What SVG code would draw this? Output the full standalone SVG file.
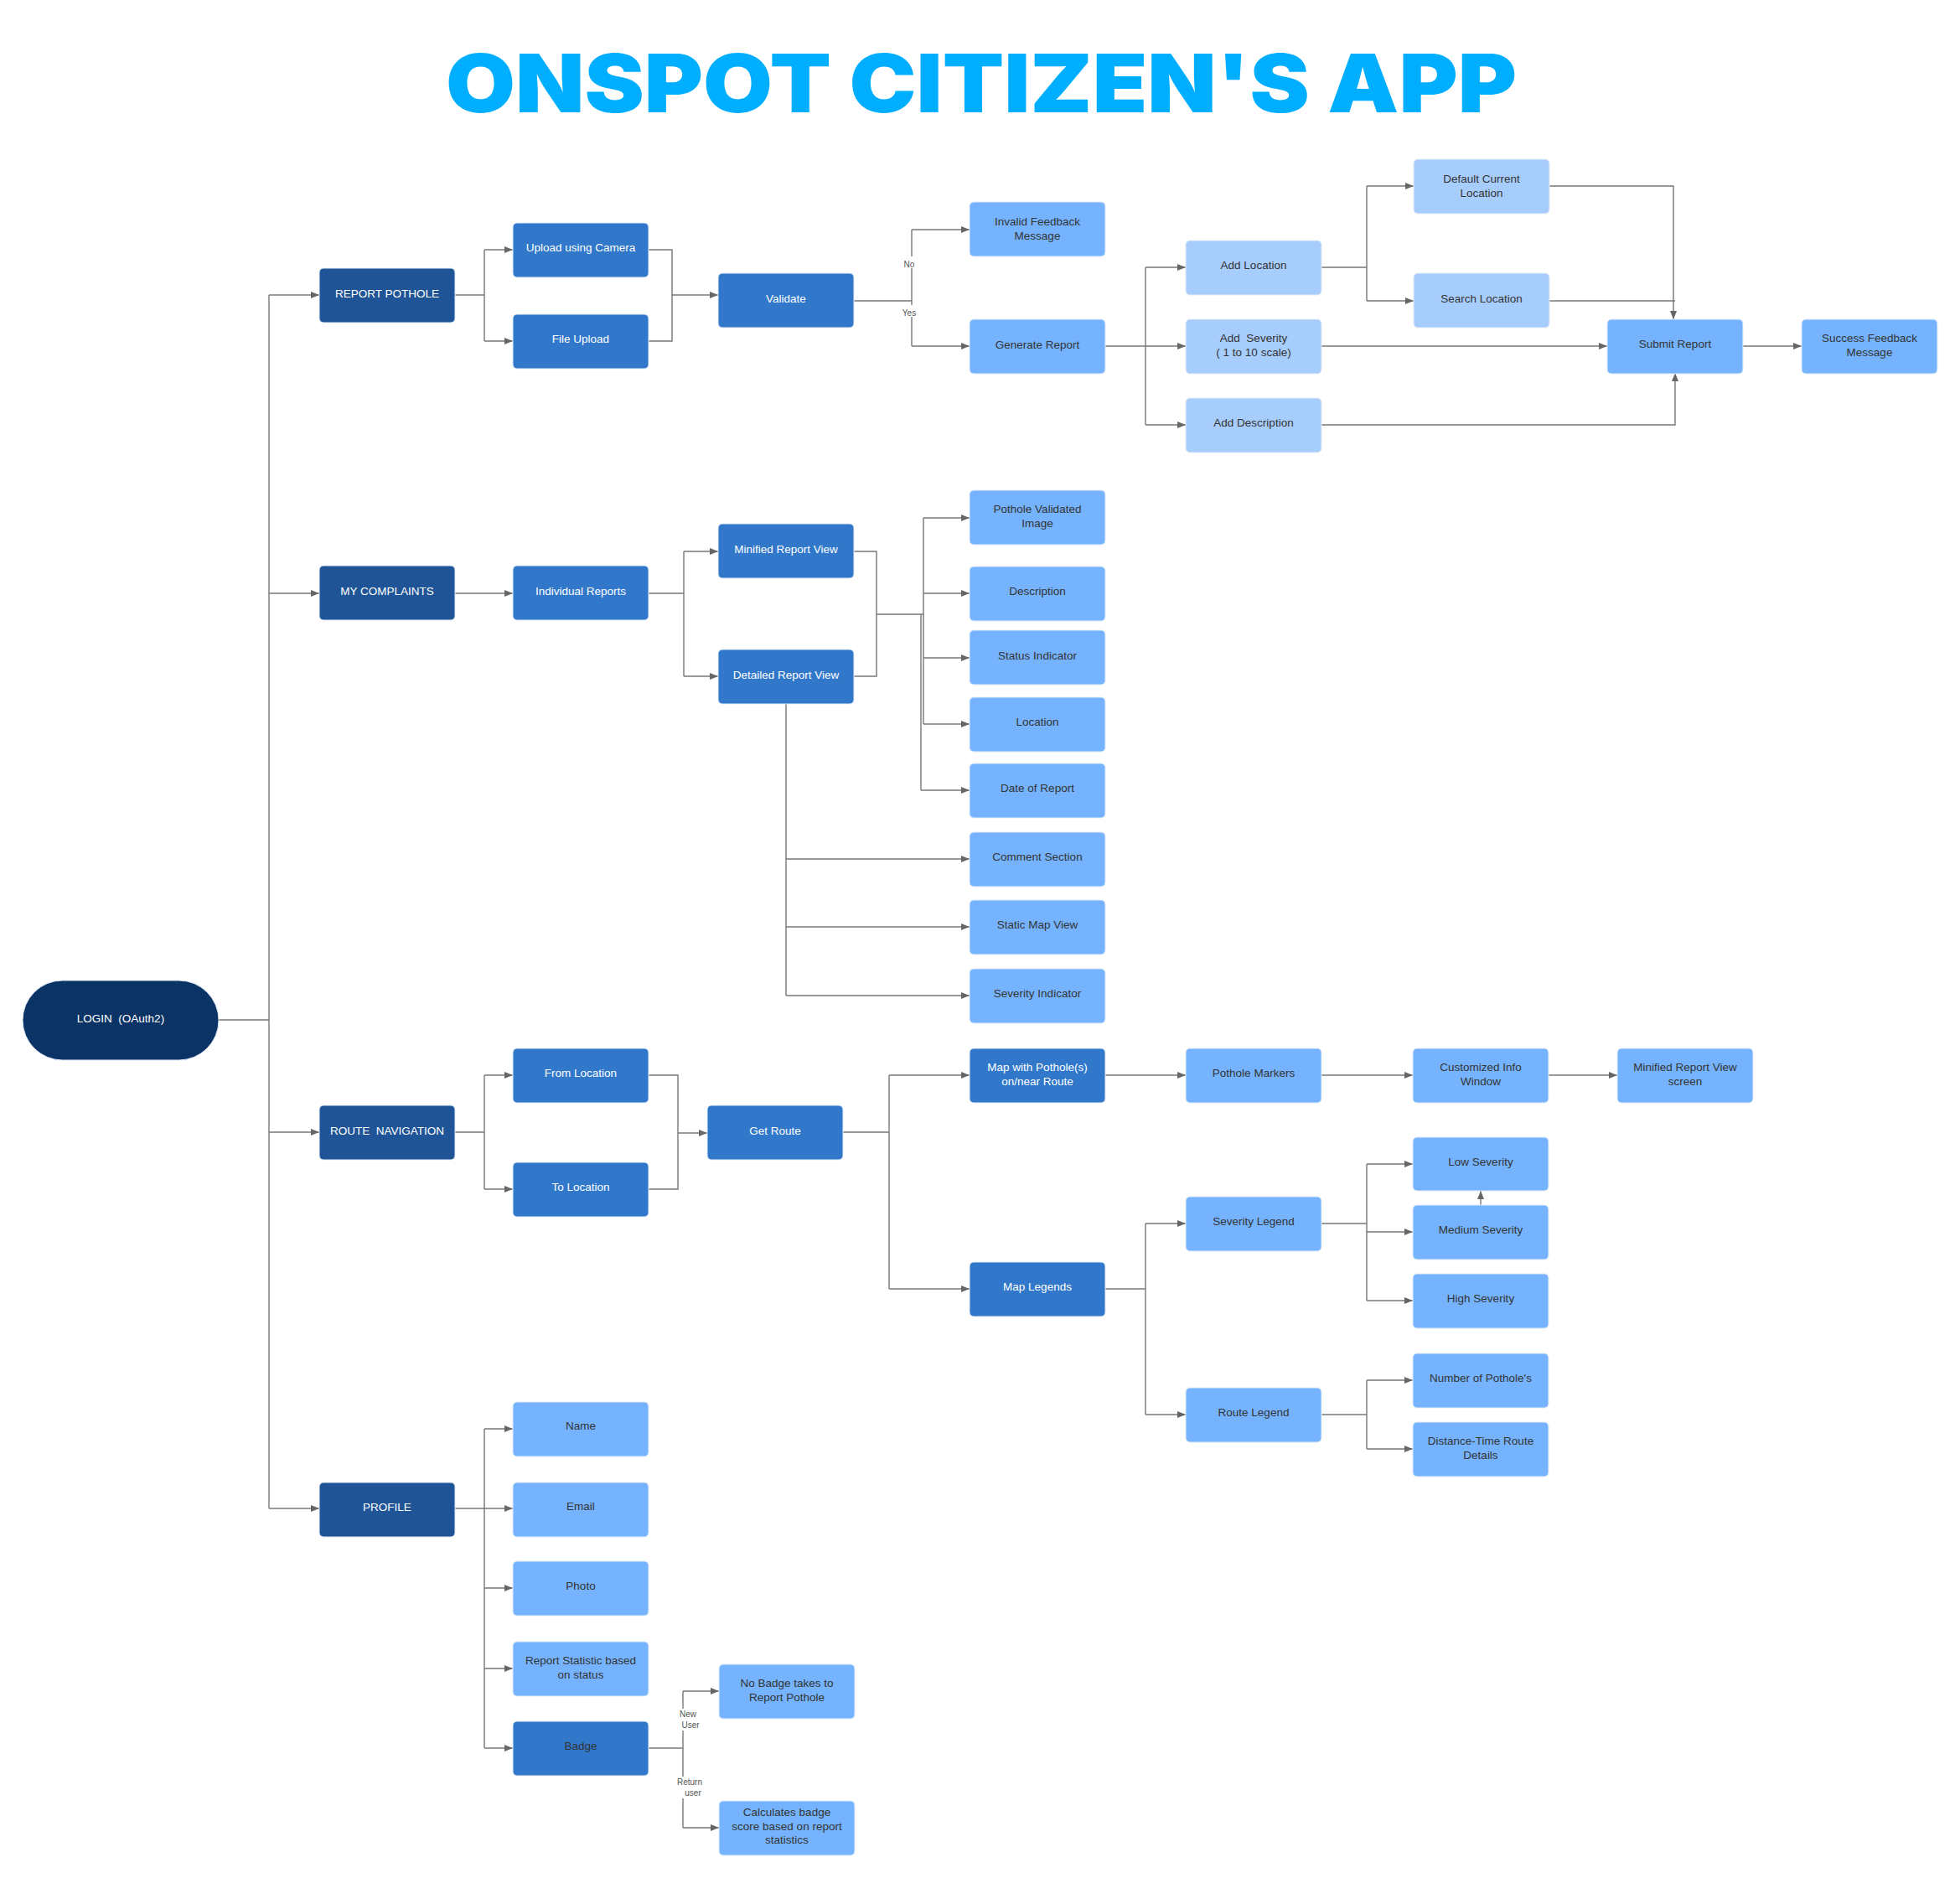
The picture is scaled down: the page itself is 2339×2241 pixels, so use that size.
<svg xmlns="http://www.w3.org/2000/svg" width="2339" height="2241" viewBox="0 0 2339 2241">
<style>
  .bg{fill:#ffffff}
  .title{font-family:"Inter","Roboto","Lato",sans-serif;font-weight:900;font-size:96px;fill:#00AEFF}
  .n rect{stroke:#e3ecf7;stroke-width:1}
  .l0 rect{fill:#0B3366}
  .l1 rect{fill:#1F5597}
  .l2 rect{fill:#3178CB}
  .l3 rect{fill:#75B3FE}
  .l4 rect{fill:#A7CDFD}
  .n text{font-family:"Liberation Sans",Arial,sans-serif;font-size:13.5px;text-anchor:middle;white-space:pre}
  .l0 text,.l1 text,.l2 text{fill:#ffffff}
  .l3 text,.l4 text,.dk text{fill:#333333}
  .c path{fill:none;stroke:#777777;stroke-width:1.4}
  .lbl{font-family:"Liberation Sans",Arial,sans-serif;font-size:10px;fill:#555555;text-anchor:middle}
</style>
<defs>
  <marker id="ah" markerUnits="userSpaceOnUse" markerWidth="11" markerHeight="9" refX="10" refY="4" orient="auto">
    <path d="M0,0 L10,4 L0,8 z" fill="#666666"/>
  </marker>
</defs>
<rect class="bg" x="0" y="0" width="2339" height="2241"/>
<text class="title" x="532" y="134" textLength="1278" lengthAdjust="spacingAndGlyphs">ONSPOT CITIZEN'S APP</text>

<g id="connectors" class="c">
  <path d="M261,1217 H321"/>
  <path d="M321,352 V1800"/>
  <path d="M321,352 H381" marker-end="url(#ah)"/>
  <path d="M321,708 H381" marker-end="url(#ah)"/>
  <path d="M321,1351 H381" marker-end="url(#ah)"/>
  <path d="M321,1800 H381" marker-end="url(#ah)"/>
  <path d="M543,352 H578"/>
  <path d="M578,298 V407"/>
  <path d="M578,298 H612" marker-end="url(#ah)"/>
  <path d="M578,407 H612" marker-end="url(#ah)"/>
  <path d="M774,298 H802 V407 H774"/>
  <path d="M802,352 H857" marker-end="url(#ah)"/>
  <path d="M1019,359 H1088"/>
  <path d="M1088,274 V413"/>
  <path d="M1088,274 H1157" marker-end="url(#ah)"/>
  <path d="M1088,413 H1157" marker-end="url(#ah)"/>
  <path d="M1319,413 H1367"/>
  <path d="M1367,319 V507"/>
  <path d="M1367,319 H1415" marker-end="url(#ah)"/>
  <path d="M1367,413 H1415" marker-end="url(#ah)"/>
  <path d="M1367,507 H1415" marker-end="url(#ah)"/>
  <path d="M1576,319 H1631"/>
  <path d="M1631,222 V359"/>
  <path d="M1631,222 H1687" marker-end="url(#ah)"/>
  <path d="M1631,359 H1687" marker-end="url(#ah)"/>
  <path d="M1849,222 H1997 V381" marker-end="url(#ah)"/>
  <path d="M1849,359 H1999"/>
  <path d="M1576,413 H1918" marker-end="url(#ah)"/>
  <path d="M1576,507 H1999 V445" marker-end="url(#ah)"/>
  <path d="M2080,413 H2150" marker-end="url(#ah)"/>
  <path d="M543,708 H612" marker-end="url(#ah)"/>
  <path d="M774,708 H816"/>
  <path d="M816,658 V807"/>
  <path d="M816,658 H857" marker-end="url(#ah)"/>
  <path d="M816,807 H857" marker-end="url(#ah)"/>
  <path d="M1019,658 H1046 V807 H1019"/>
  <path d="M1046,733 H1102"/>
  <path d="M1102,618 V864"/>
  <path d="M1099,733 V943"/>
  <path d="M1102,618 H1157" marker-end="url(#ah)"/>
  <path d="M1102,708 H1157" marker-end="url(#ah)"/>
  <path d="M1102,785 H1157" marker-end="url(#ah)"/>
  <path d="M1102,864 H1157" marker-end="url(#ah)"/>
  <path d="M1099,943 H1157" marker-end="url(#ah)"/>
  <path d="M938,840 V1188"/>
  <path d="M938,1025 H1157" marker-end="url(#ah)"/>
  <path d="M938,1106 H1157" marker-end="url(#ah)"/>
  <path d="M938,1188 H1157" marker-end="url(#ah)"/>
  <path d="M543,1351 H578"/>
  <path d="M578,1283 V1419"/>
  <path d="M578,1283 H612" marker-end="url(#ah)"/>
  <path d="M578,1419 H612" marker-end="url(#ah)"/>
  <path d="M774,1283 H809 V1419 H774"/>
  <path d="M809,1352 H844" marker-end="url(#ah)"/>
  <path d="M1006,1351 H1061"/>
  <path d="M1061,1283 V1538"/>
  <path d="M1061,1283 H1157" marker-end="url(#ah)"/>
  <path d="M1061,1538 H1157" marker-end="url(#ah)"/>
  <path d="M1319,1283 H1415" marker-end="url(#ah)"/>
  <path d="M1577,1283 H1686" marker-end="url(#ah)"/>
  <path d="M1848,1283 H1930" marker-end="url(#ah)"/>
  <path d="M1319,1538 H1367"/>
  <path d="M1367,1460 V1688"/>
  <path d="M1367,1460 H1415" marker-end="url(#ah)"/>
  <path d="M1367,1688 H1415" marker-end="url(#ah)"/>
  <path d="M1577,1460 H1631"/>
  <path d="M1631,1389 V1552"/>
  <path d="M1631,1389 H1686" marker-end="url(#ah)"/>
  <path d="M1631,1470 H1686" marker-end="url(#ah)"/>
  <path d="M1631,1552 H1686" marker-end="url(#ah)"/>
  <path d="M1767,1438 V1421" marker-end="url(#ah)"/>
  <path d="M1577,1688 H1631"/>
  <path d="M1631,1647 V1729"/>
  <path d="M1631,1647 H1686" marker-end="url(#ah)"/>
  <path d="M1631,1729 H1686" marker-end="url(#ah)"/>
  <path d="M543,1800 H578"/>
  <path d="M578,1705 V2086"/>
  <path d="M578,1705 H612" marker-end="url(#ah)"/>
  <path d="M578,1800 H612" marker-end="url(#ah)"/>
  <path d="M578,1895 H612" marker-end="url(#ah)"/>
  <path d="M578,1991 H612" marker-end="url(#ah)"/>
  <path d="M578,2086 H612" marker-end="url(#ah)"/>
  <path d="M774,2086 H815"/>
  <path d="M815,2018 V2181"/>
  <path d="M815,2018 H858" marker-end="url(#ah)"/>
  <path d="M815,2181 H858" marker-end="url(#ah)"/>
  <rect x="1077" y="306" width="16" height="14" fill="#ffffff"/>
  <text class="lbl" x="1085" y="319">No</text>
  <rect x="1074" y="364" width="22" height="14" fill="#ffffff"/>
  <text class="lbl" x="1085" y="377">Yes</text>
  <rect x="808" y="2039" width="28" height="26" fill="#ffffff"/>
  <text class="lbl" x="821" y="2049">New</text>
  <text class="lbl" x="824" y="2062">User</text>
  <rect x="804" y="2120" width="34" height="26" fill="#ffffff"/>
  <text class="lbl" x="823" y="2130">Return</text>
  <text class="lbl" x="827" y="2143">user</text>
</g>

<g id="login" class="n l0"><rect x="27" y="1170" width="234" height="95" rx="47.5"/><text x="144" y="1220" xml:space="preserve">LOGIN  (OAuth2)</text></g>

<g id="report-pothole" class="n l1"><rect x="381" y="320" width="162" height="65" rx="5"/><text x="462" y="355">REPORT POTHOLE</text></g>
<g id="upload-camera" class="n l2"><rect x="612" y="266" width="162" height="65" rx="5"/><text x="693" y="300">Upload using Camera</text></g>
<g id="file-upload" class="n l2"><rect x="612" y="375" width="162" height="65" rx="5"/><text x="693" y="409">File Upload</text></g>
<g id="validate" class="n l2"><rect x="857" y="326" width="162" height="65" rx="5"/><text x="938" y="361">Validate</text></g>
<g id="invalid-feedback" class="n l3"><rect x="1157" y="241" width="162" height="65" rx="5"/><text x="1238" y="269">Invalid Feedback</text><text x="1238" y="286">Message</text></g>
<g id="generate-report" class="n l3"><rect x="1157" y="381" width="162" height="65" rx="5"/><text x="1238" y="416">Generate Report</text></g>
<g id="add-location" class="n l4"><rect x="1415" y="287" width="162" height="65" rx="5"/><text x="1496" y="321">Add Location</text></g>
<g id="add-severity" class="n l4"><rect x="1415" y="381" width="162" height="65" rx="5"/><text x="1496" y="408" xml:space="preserve">Add  Severity</text><text x="1496" y="425">( 1 to 10 scale)</text></g>
<g id="add-description" class="n l4"><rect x="1415" y="475" width="162" height="65" rx="5"/><text x="1496" y="509">Add Description</text></g>
<g id="default-location" class="n l4"><rect x="1687" y="190" width="162" height="65" rx="5"/><text x="1768" y="218">Default Current</text><text x="1768" y="235">Location</text></g>
<g id="search-location" class="n l4"><rect x="1687" y="326" width="162" height="65" rx="5"/><text x="1768" y="361">Search Location</text></g>
<g id="submit-report" class="n l3"><rect x="1918" y="381" width="162" height="65" rx="5"/><text x="1999" y="415">Submit Report</text></g>
<g id="success-feedback" class="n l3"><rect x="2150" y="381" width="162" height="65" rx="5"/><text x="2231" y="408">Success Feedback</text><text x="2231" y="425">Message</text></g>

<g id="my-complaints" class="n l1"><rect x="381" y="675" width="162" height="65" rx="5"/><text x="462" y="710">MY COMPLAINTS</text></g>
<g id="individual-reports" class="n l2"><rect x="612" y="675" width="162" height="65" rx="5"/><text x="693" y="710">Individual Reports</text></g>
<g id="minified-report-view" class="n l2"><rect x="857" y="625" width="162" height="65" rx="5"/><text x="938" y="660">Minified Report View</text></g>
<g id="detailed-report-view" class="n l2"><rect x="857" y="775" width="162" height="65" rx="5"/><text x="938" y="810">Detailed Report View</text></g>
<g id="pothole-validated-image" class="n l3"><rect x="1157" y="585" width="162" height="65" rx="5"/><text x="1238" y="612">Pothole Validated</text><text x="1238" y="629">Image</text></g>
<g id="description" class="n l3"><rect x="1157" y="676" width="162" height="65" rx="5"/><text x="1238" y="710">Description</text></g>
<g id="status-indicator" class="n l3"><rect x="1157" y="752" width="162" height="65" rx="5"/><text x="1238" y="787">Status Indicator</text></g>
<g id="location" class="n l3"><rect x="1157" y="832" width="162" height="65" rx="5"/><text x="1238" y="866">Location</text></g>
<g id="date-of-report" class="n l3"><rect x="1157" y="911" width="162" height="65" rx="5"/><text x="1238" y="945">Date of Report</text></g>
<g id="comment-section" class="n l3"><rect x="1157" y="993" width="162" height="65" rx="5"/><text x="1238" y="1027">Comment Section</text></g>
<g id="static-map-view" class="n l3"><rect x="1157" y="1074" width="162" height="65" rx="5"/><text x="1238" y="1108">Static Map View</text></g>
<g id="severity-indicator" class="n l3"><rect x="1157" y="1156" width="162" height="65" rx="5"/><text x="1238" y="1190">Severity Indicator</text></g>

<g id="route-navigation" class="n l1"><rect x="381" y="1319" width="162" height="65" rx="5"/><text x="462" y="1354" xml:space="preserve">ROUTE  NAVIGATION</text></g>
<g id="from-location" class="n l2"><rect x="612" y="1251" width="162" height="65" rx="5"/><text x="693" y="1285">From Location</text></g>
<g id="to-location" class="n l2"><rect x="612" y="1387" width="162" height="65" rx="5"/><text x="693" y="1421">To Location</text></g>
<g id="get-route" class="n l2"><rect x="844" y="1319" width="162" height="65" rx="5"/><text x="925" y="1354">Get Route</text></g>
<g id="map-potholes" class="n l2"><rect x="1157" y="1251" width="162" height="65" rx="5"/><text x="1238" y="1278">Map with Pothole(s)</text><text x="1238" y="1295">on/near Route</text></g>
<g id="map-legends" class="n l2"><rect x="1157" y="1506" width="162" height="65" rx="5"/><text x="1238" y="1540">Map Legends</text></g>
<g id="pothole-markers" class="n l3"><rect x="1415" y="1251" width="162" height="65" rx="5"/><text x="1496" y="1285">Pothole Markers</text></g>
<g id="info-window" class="n l3"><rect x="1686" y="1251" width="162" height="65" rx="5"/><text x="1767" y="1278">Customized Info</text><text x="1767" y="1295">Window</text></g>
<g id="minified-report-screen" class="n l3"><rect x="1930" y="1251" width="162" height="65" rx="5"/><text x="2011" y="1278">Minified Report View</text><text x="2011" y="1295">screen</text></g>
<g id="severity-legend" class="n l3"><rect x="1415" y="1428" width="162" height="65" rx="5"/><text x="1496" y="1462">Severity Legend</text></g>
<g id="low-severity" class="n l3"><rect x="1686" y="1357" width="162" height="64" rx="5"/><text x="1767" y="1391">Low Severity</text></g>
<g id="medium-severity" class="n l3"><rect x="1686" y="1438" width="162" height="65" rx="5"/><text x="1767" y="1472">Medium Severity</text></g>
<g id="high-severity" class="n l3"><rect x="1686" y="1520" width="162" height="65" rx="5"/><text x="1767" y="1554">High Severity</text></g>
<g id="route-legend" class="n l3"><rect x="1415" y="1656" width="162" height="65" rx="5"/><text x="1496" y="1690">Route Legend</text></g>
<g id="number-of-potholes" class="n l3"><rect x="1686" y="1615" width="162" height="65" rx="5"/><text x="1767" y="1649">Number of Pothole's</text></g>
<g id="distance-time" class="n l3"><rect x="1686" y="1697" width="162" height="65" rx="5"/><text x="1767" y="1724">Distance-Time Route</text><text x="1767" y="1741">Details</text></g>

<g id="profile" class="n l1"><rect x="381" y="1769" width="162" height="65" rx="5"/><text x="462" y="1803">PROFILE</text></g>
<g id="name" class="n l3"><rect x="612" y="1673" width="162" height="65" rx="5"/><text x="693" y="1706">Name</text></g>
<g id="email" class="n l3"><rect x="612" y="1769" width="162" height="65" rx="5"/><text x="693" y="1802">Email</text></g>
<g id="photo" class="n l3"><rect x="612" y="1863" width="162" height="65" rx="5"/><text x="693" y="1897">Photo</text></g>
<g id="report-statistic" class="n l3"><rect x="612" y="1959" width="162" height="65" rx="5"/><text x="693" y="1986">Report Statistic based</text><text x="693" y="2003">on status</text></g>
<g id="badge" class="n l2 dk"><rect x="612" y="2054" width="162" height="65" rx="5"/><text x="693" y="2088">Badge</text></g>
<g id="no-badge" class="n l3"><rect x="858" y="1986" width="162" height="65" rx="5"/><text x="939" y="2013">No Badge takes to</text><text x="939" y="2030">Report Pothole</text></g>
<g id="calculates-badge" class="n l3"><rect x="858" y="2149" width="162" height="65" rx="5"/><text x="939" y="2167">Calculates badge</text><text x="939" y="2184">score based on report</text><text x="939" y="2200">statistics</text></g>
</svg>
